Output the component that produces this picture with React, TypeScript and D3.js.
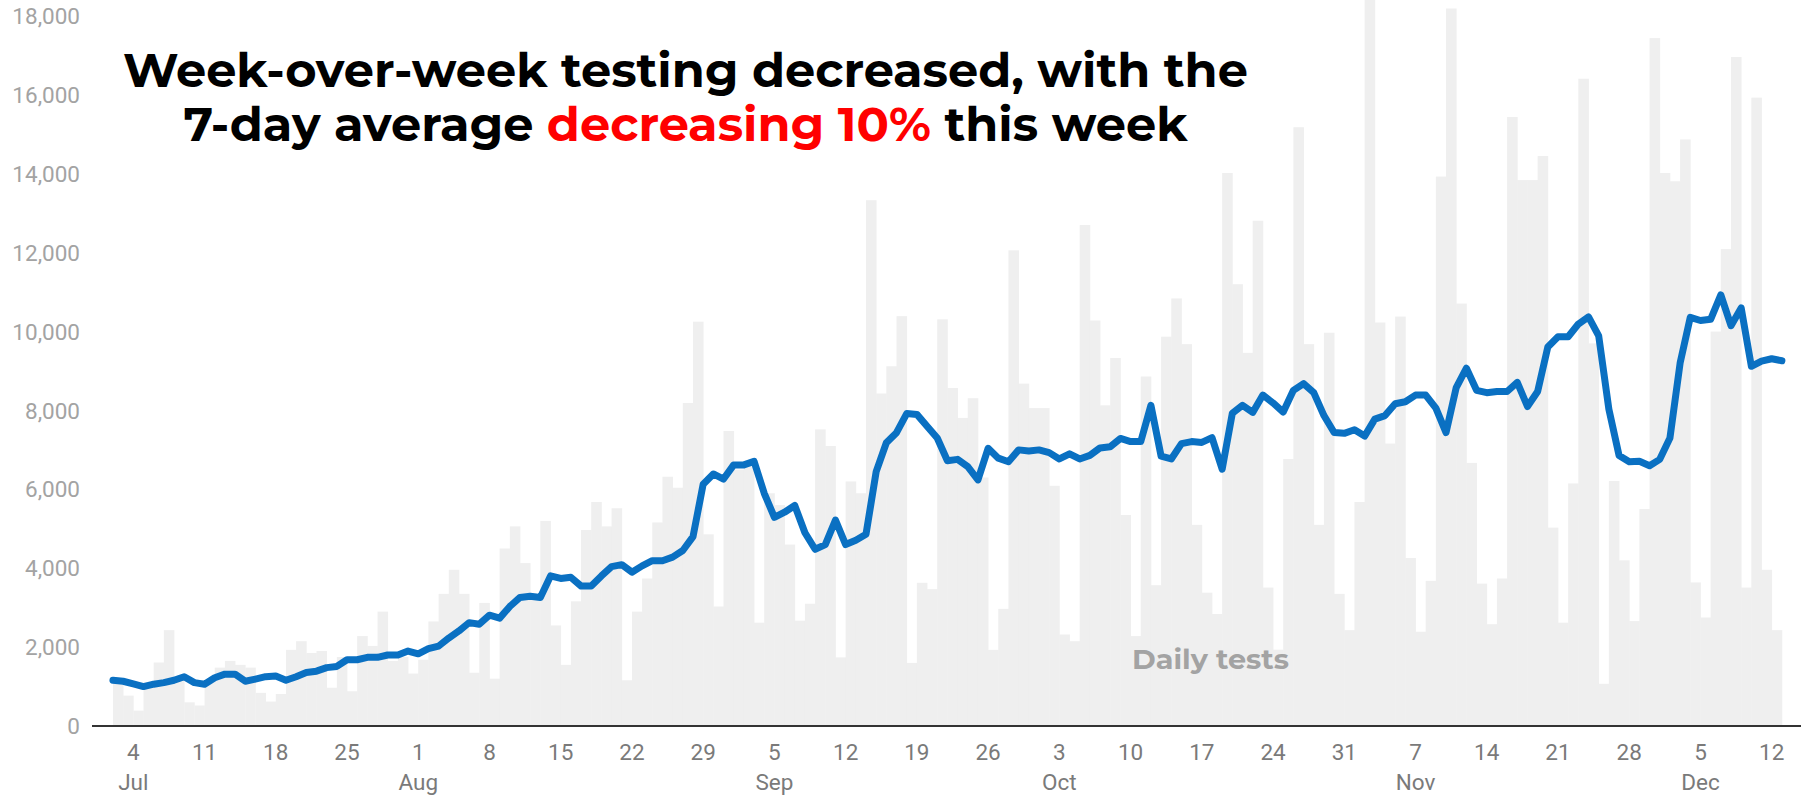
import React from "react";
import * as d3 from "d3";

const W = 1807;
const H = 797;

const startDate = "2020-07-02";

// Daily tests, one bar per day starting Jul 2
const dailyTests = [
  1150, 770, 390, 1100, 1610, 2430, 1250, 600, 520, 1150,
  1480, 1650, 1550, 1480, 840, 620, 810, 1930, 2150, 1850,
  1900, 970, 1750, 880, 2280, 2030, 2900, 1650, 1750, 1330,
  1680, 2650, 3350, 3960, 3350, 1350, 3120, 1200, 4500, 5060,
  4130, 3200, 5200, 2550, 1550, 3160, 4970, 5680, 5060, 5520,
  1160, 2900, 3740, 5160, 6320, 6040, 8190, 10250, 4860, 3030,
  7480, 6500, 6600, 2620, 5900, 5600, 4600, 2670, 3100, 7520,
  7100, 1740, 6200, 5900, 13330, 8430, 9120, 10390, 1600, 3630,
  3470, 10310, 8570, 7810, 8310, 6300, 1930, 2970, 12060, 8680,
  8060, 8060, 6090, 2320, 2150, 12700, 10280, 8130, 9330, 5350,
  2280, 8860, 3570, 9870, 10840, 9680, 5100, 3380, 2840, 14020,
  11200, 9460, 12810, 3510, 1935, 6770, 15180, 9680, 5100, 9970,
  3350, 2430, 5680, 18600, 10230, 7160, 10380, 4260, 2390, 3680,
  13930, 18190, 10710, 6670, 3610, 2580, 3740, 15440, 13840, 13840,
  14450, 5030, 2620, 6150, 16410, 9700, 1070, 6210, 4200, 2660,
  5500, 17440, 14020, 13810, 14870, 3640, 2750, 10000, 12090, 16960,
  3510, 15930, 3960, 2430,
];

// 7-day average, one point per day boundary starting Jul 2
const sevenDayAvg = [
  1160, 1135, 1070, 1000, 1060, 1100, 1160, 1250, 1100, 1060,
  1225, 1315, 1315, 1135, 1190, 1250, 1265, 1160, 1250, 1355,
  1390, 1480, 1510, 1680, 1680, 1740, 1740, 1800, 1800, 1900,
  1830, 1960, 2025, 2230, 2410, 2620, 2580, 2810, 2735, 3030,
  3260, 3290, 3260, 3805, 3740, 3770, 3550, 3550, 3805, 4040,
  4090, 3900, 4060, 4190, 4190, 4280, 4450, 4800, 6130, 6390,
  6260, 6620, 6620, 6710, 5900, 5290, 5420, 5590, 4900, 4480,
  4600, 5220, 4600, 4710, 4860, 6450, 7180, 7435, 7920, 7900,
  7600, 7300, 6725, 6760, 6575, 6240, 7040, 6790, 6700, 7000,
  6970, 7000, 6930, 6770, 6900, 6770, 6860, 7050, 7080, 7290,
  7210, 7210, 8130, 6840, 6770, 7160, 7210, 7190, 7310, 6510,
  7930, 8130, 7950, 8390, 8190, 7960, 8510, 8680, 8450, 7870,
  7440, 7420, 7510, 7350, 7780, 7870, 8170, 8220, 8390, 8390,
  8060, 7440, 8580, 9070, 8510, 8450, 8480, 8480, 8710, 8100,
  8480, 9610, 9870, 9870, 10190, 10370, 9890, 8030, 6860, 6700,
  6710, 6600, 6760, 7300, 9200, 10360, 10280, 10310, 10930, 10150,
  10600, 9120, 9250, 9310, 9260,
];

const yTicks = [0, 2000, 4000, 6000, 8000, 10000, 12000, 14000, 16000, 18000];

const xTickDates = [
  "2020-07-04", "2020-07-11", "2020-07-18", "2020-07-25",
  "2020-08-01", "2020-08-08", "2020-08-15", "2020-08-22", "2020-08-29",
  "2020-09-05", "2020-09-12", "2020-09-19", "2020-09-26",
  "2020-10-03", "2020-10-10", "2020-10-17", "2020-10-24", "2020-10-31",
  "2020-11-07", "2020-11-14", "2020-11-21", "2020-11-28",
  "2020-12-05", "2020-12-12",
];
const monthTickDates = ["2020-07-04", "2020-08-01", "2020-09-05", "2020-10-03", "2020-11-07", "2020-12-05"];
const monthNames = ["Jul", "Aug", "Sep", "Oct", "Nov", "Dec"];

const titleLine1 = "Week-over-week testing decreased, with the";
const titleLine2Parts = ["7-day average ", "decreasing 10%", " this week"];
const seriesLabel = "Daily tests";

const parse = d3.utcParse("%Y-%m-%d");

export default function App() {
  const start = parse(startDate)!;
  const x = d3
    .scaleUtc()
    .domain([parse("2020-07-04")!, parse("2020-12-12")!])
    .range([133.3, 1771.7]);
  const y = d3.scaleLinear().domain([0, 18000]).range([726, 16]);

  const barDates = dailyTests.map((_, i) => d3.utcDay.offset(start, i));
  const lineDates = sevenDayAvg.map((_, i) => d3.utcDay.offset(start, i));

  const line = d3
    .line<number>()
    .x((_, i) => x(lineDates[i]))
    .y((d) => y(d));

  const fmt = d3.format(",");
  const labelFont = "Roboto, 'Liberation Sans', sans-serif";
  const titleFont = "Montserrat, 'DejaVu Sans', sans-serif";

  return (
    <svg
      width={W}
      height={H}
      style={{ position: "absolute", left: 0, top: 0, background: "#ffffff" }}
    >
      <rect x={0} y={0} width={W} height={H} fill="#ffffff" />
      <g>
        {dailyTests.map((v, i) => {
          const x0 = x(barDates[i]);
          const x1 = x(d3.utcDay.offset(barDates[i], 1));
          return (
            <rect
              key={i}
              x={x0}
              y={y(v)}
              width={x1 - x0 + 0.4}
              height={y(0) - y(v)}
              fill="#efefef"
            />
          );
        })}
      </g>
      <text
        x={1132}
        y={669}
        fill="#a3a3a3"
        fontFamily={titleFont}
        fontWeight={700}
        fontSize={27}
        textLength={157}
        lengthAdjust="spacingAndGlyphs"
      >
        {seriesLabel}
      </text>
      <path
        d={line(sevenDayAvg) || ""}
        fill="none"
        stroke="#0a70c2"
        strokeWidth={7}
        strokeLinejoin="round"
        strokeLinecap="round"
      />
      <line x1={92} x2={1801} y1={y(0)} y2={y(0)} stroke="#333333" strokeWidth={2} />
      {yTicks.map((t) => (
        <text
          key={t}
          x={80}
          y={y(t)}
          dy="0.36em"
          textAnchor="end"
          fill="#a3a3a3"
          fontFamily={labelFont}
          fontSize={22.5}
        >
          {fmt(t)}
        </text>
      ))}
      {xTickDates.map((s) => {
        const d = parse(s)!;
        return (
          <text
            key={s}
            x={x(d)}
            y={760}
            textAnchor="middle"
            fill="#7a7a7a"
            fontFamily={labelFont}
            fontSize={22.5}
          >
            {d.getUTCDate()}
          </text>
        );
      })}
      {monthTickDates.map((s, i) => (
        <text
          key={s}
          x={x(parse(s)!)}
          y={790}
          textAnchor="middle"
          fill="#7a7a7a"
          fontFamily={labelFont}
          fontSize={22.5}
        >
          {monthNames[i]}
        </text>
      ))}
      <text
        x={685.5}
        y={87}
        textAnchor="middle"
        fill="#000000"
        fontFamily={titleFont}
        fontWeight={700}
        fontSize={47}
        textLength={1125}
        lengthAdjust="spacingAndGlyphs"
      >
        {titleLine1}
      </text>
      <text
        x={685.5}
        y={141}
        textAnchor="middle"
        fill="#000000"
        fontFamily={titleFont}
        fontWeight={700}
        fontSize={47}
        textLength={1004}
        lengthAdjust="spacingAndGlyphs"
      >
        <tspan>{titleLine2Parts[0]}</tspan>
        <tspan fill="#ff0000">{titleLine2Parts[1]}</tspan>
        <tspan>{titleLine2Parts[2]}</tspan>
      </text>
    </svg>
  );
}
